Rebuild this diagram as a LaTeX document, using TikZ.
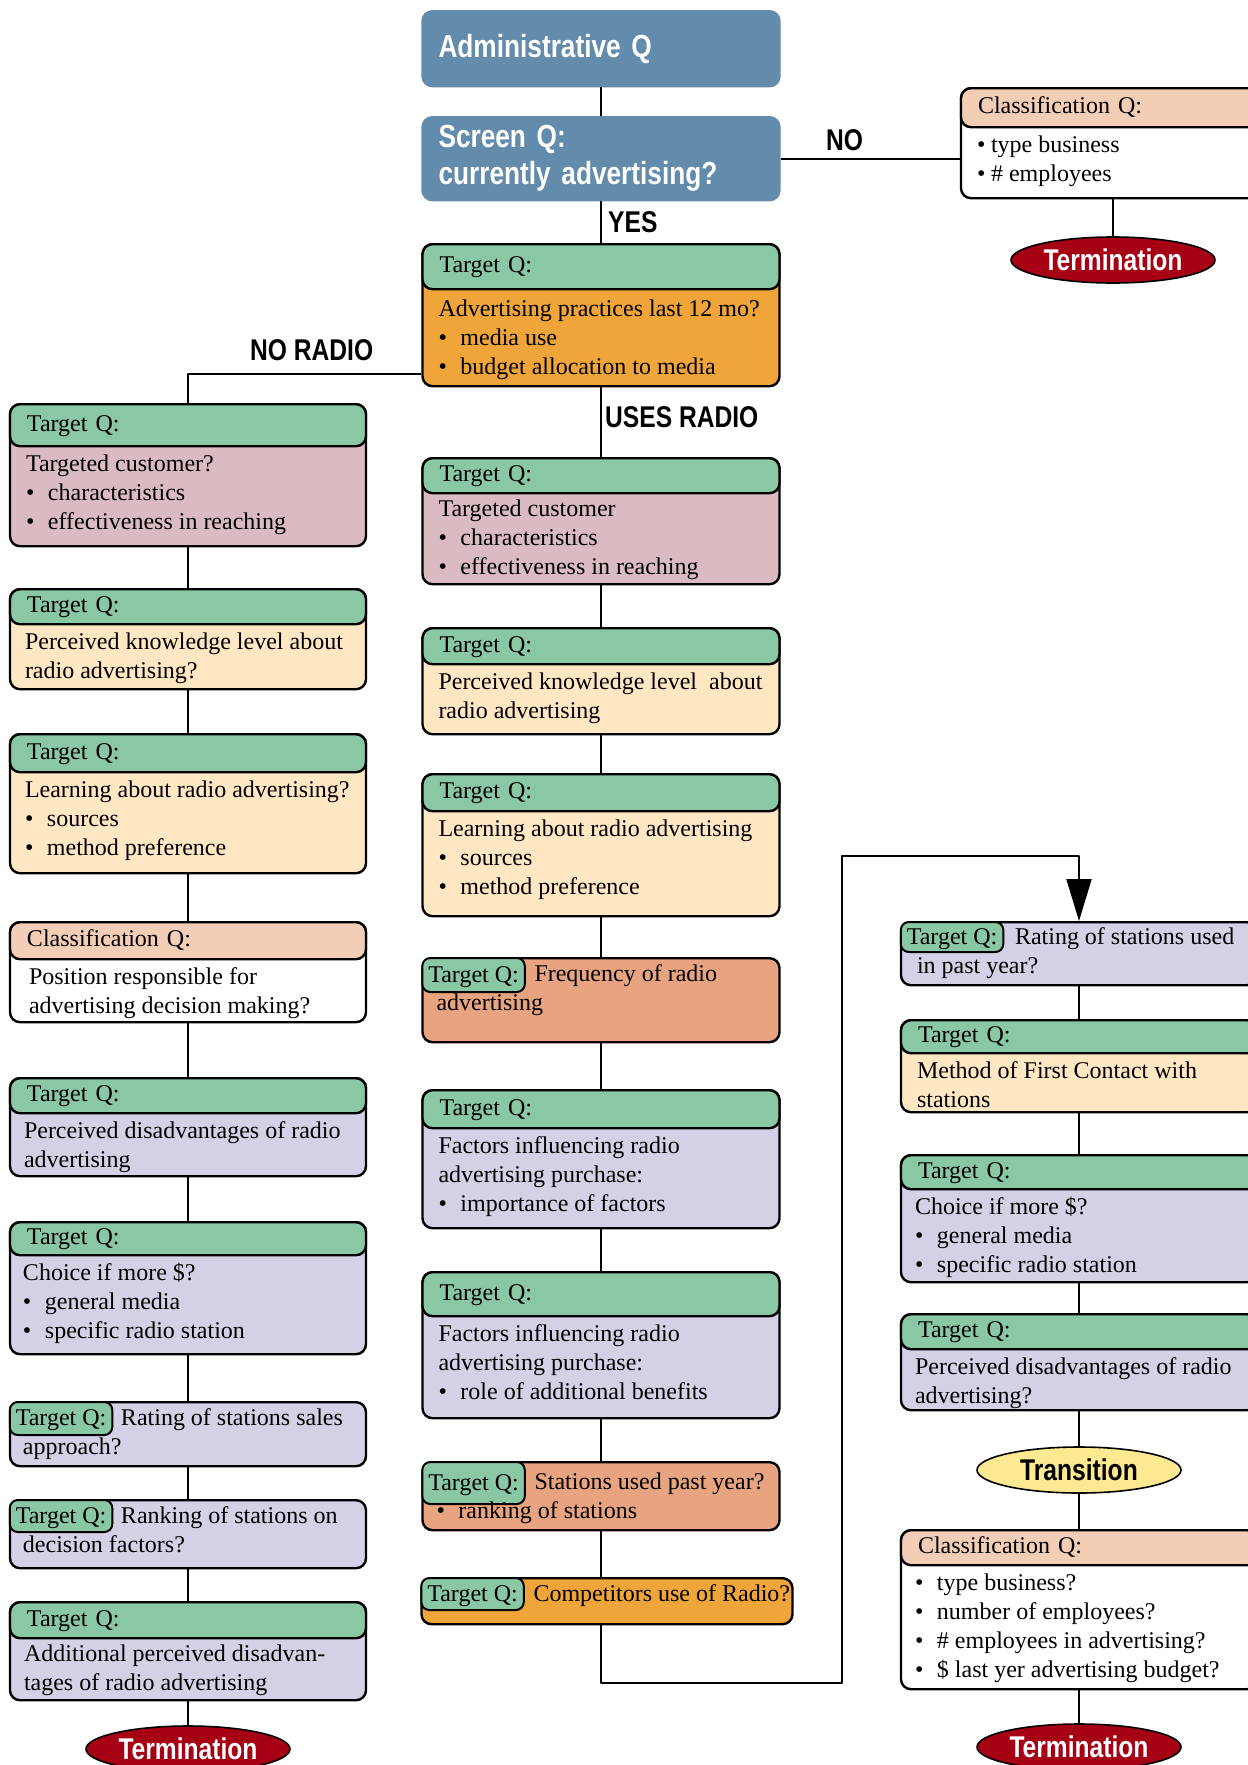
\documentclass[tikz,border=0pt]{standalone}
\usepackage{fontspec}
\setmainfont{Liberation Serif}
\newfontfamily\headfont[FakeStretch=0.82]{Liberation Sans}
\usetikzlibrary{shapes.geometric,arrows.meta}

\definecolor{qblue}{RGB}{98,139,172}
\definecolor{qgreen}{RGB}{138,199,165}
\definecolor{qorange}{RGB}{239,165,58}
\definecolor{qpink}{RGB}{219,187,194}
\definecolor{qpeach}{RGB}{255,231,196}
\definecolor{qsalmon}{RGB}{232,164,128}
\definecolor{qlav}{RGB}{213,208,230}
\definecolor{qclass}{RGB}{242,206,182}
\definecolor{qred}{RGB}{165,0,20}
\definecolor{qyellow}{RGB}{253,233,145}

\newcommand{\bul}{\makebox[22pt][l]{\textbullet}}
\newcommand{\tbul}{\makebox[14pt][l]{\textbullet}}

\tikzset{
	qbox/.style={draw, line width=2.4pt, rounded corners=10pt, anchor=north, inner sep=0pt},
	qhead/.style={draw, line width=2.4pt, rounded corners=10pt, anchor=north, inner xsep=17pt, inner ysep=0pt, align=left, text height=17pt, text depth=5pt},
	qtag/.style={draw, fill=qgreen, line width=2pt, rounded corners=8pt, anchor=north west, inner xsep=6pt, inner ysep=0pt, text height=17pt, text depth=3pt},
	qtext/.style={anchor=north west, inner sep=0pt, align=left},
	bluebox/.style={qbox, fill=qblue, draw=qblue, minimum width=357pt, inner xsep=16pt, text width=325pt, align=left, text=white, font=\headfont\bfseries\fontsize{32}{37}\selectfont},
	link/.style={line width=2pt},
	bigword/.style={font=\headfont\bfseries\fontsize{30}{36}\selectfont, inner sep=0pt, anchor=west},
	endcap/.style={ellipse, draw, line width=1.6pt, minimum width=204pt, minimum height=46pt, inner sep=0pt, font=\headfont\bfseries\fontsize{30}{36}\selectfont}
}

\begin{document}
\begin{tikzpicture}[x=1pt, y=-1pt, line join=round, font=\fontsize{24}{29}\selectfont]
	\useasboundingbox (0,0) rectangle (1248,1765);
	
	% screening part
	\node[bluebox, minimum height=75pt] (M0) at (601,10) {Administrative Q};
	\node[bluebox, minimum height=83pt] (M1) at (601,116) {Screen Q:\\currently advertising?};
	
	% boxes with a full header
	\foreach \nm/\cx/\ty/\by/\hy/\bw/\bc/\hc/\lab in {
		L1/188/403/545/445/356/qpink/qgreen/Target Q:,
		L2/188/588/688/623/356/qpeach/qgreen/Target Q:,
		L3/188/733/872/771/356/qpeach/qgreen/Target Q:,
		L4/188/921/1021/958/356/white/qclass/Classification Q:,
		L5/188/1077/1175/1112/356/qlav/qgreen/Target Q:,
		L6/188/1221/1353/1254/356/qlav/qgreen/Target Q:,
		L9/188/1601/1699/1637/356/qlav/qgreen/Target Q:,
		M2/601/243/385/288/357/qorange/qgreen/Target Q:,
		M3/601/457/583/492/357/qpink/qgreen/Target Q:,
		M4/601/627/733/663/357/qpeach/qgreen/Target Q:,
		M5/601/773/915/810/357/qpeach/qgreen/Target Q:,
		M7/601/1089/1227/1127/357/qlav/qgreen/Target Q:,
		M8/601/1271/1417/1315/357/qlav/qgreen/Target Q:,
		R0/1113/87/197/126/304/white/qclass/Classification Q:,
		R2/1079/1019/1111/1052/356/qpeach/qgreen/Target Q:,
		R3/1079/1154/1281/1188/356/qlav/qgreen/Target Q:,
		R4/1079/1313/1409/1348/356/qlav/qgreen/Target Q:,
		R5/1079/1529/1688/1564/356/white/qclass/Classification Q:}
	{
		\pgfmathsetmacro\hgt{\by-\ty}
		\pgfmathsetmacro\hh{\hy-\ty}
		\pgfmathsetmacro\tw{\bw-34}
		\node[qbox, fill=\bc, minimum width=\bw pt, minimum height=\hgt pt] (\nm) at (\cx,\ty) {};
		\node[qhead, fill=\hc, minimum width=\bw pt, minimum height=\hh pt, text width=\tw pt] (\nm h) at (\nm.north) {\lab};
	}
	
	% boxes with a small tag
	\foreach \nm/\cx/\ty/\by/\bw/\bc/\tg in {
		L7/188/1401/1465/356/qlav/33,
		L8/188/1499/1567/356/qlav/32,
		M6/601/957/1041/357/qsalmon/34,
		M9/601/1461/1529/357/qsalmon/42,
		M10/607/1577/1623/371/qorange/32,
		R1/1079/921/984/356/qlav/30}
	{
		\pgfmathsetmacro\hgt{\by-\ty}
		\node[qbox, fill=\bc, minimum width=\bw pt, minimum height=\hgt pt] (\nm) at (\cx,\ty) {};
		\node[qtag, minimum height=\tg pt] (\nm h) at (\nm.north west) {Target Q:};
	}
	
	% texts, left column
	\node[qtext] (L1t) at ([shift={(17,4)}]L1h.south west) {\strut Targeted customer?\\\bul characteristics\\\bul effectiveness in reaching};
	\node[qtext] (L2t) at ([shift={(16,4)}]L2h.south west) {\strut Perceived knowledge level about\\radio advertising?};
	\node[qtext] (L3t) at ([shift={(16,4)}]L3h.south west) {\strut Learning about radio advertising?\\\bul sources\\\bul method preference};
	\node[qtext] (L4t) at ([shift={(20,4)}]L4h.south west) {\strut Position responsible for\\advertising decision making?};
	\node[qtext] (L5t) at ([shift={(15,4)}]L5h.south west) {\strut Perceived disadvantages of radio\\advertising};
	\node[qtext] (L6t) at ([shift={(14,4)}]L6h.south west) {\strut Choice if more \$?\\\bul general media\\\bul specific radio station};
	\node[qtext] (L7t) at ([shift={(14,4)}]L7.north west) {\strut\hspace*{98pt}Rating of stations sales\\approach?};
	\node[qtext] (L8t) at ([shift={(14,4)}]L8.north west) {\strut\hspace*{98pt}Ranking of stations on\\decision factors?};
	\node[qtext] (L9t) at ([shift={(15,2)}]L9h.south west) {\strut Additional perceived disadvan-\\tages of radio advertising};
	
	% texts, middle column
	\node[qtext] (M2t) at ([shift={(17,6)}]M2h.south west) {\strut Advertising practices last 12 mo?\\\bul media use\\\bul budget allocation to media};
	\node[qtext] (M3t) at ([shift={(17,2)}]M3h.south west) {\strut Targeted customer\\\bul characteristics\\\bul effectiveness in reaching};
	\node[qtext] (M4t) at ([shift={(17,4)}]M4h.south west) {\strut Perceived knowledge level\ \ about\\radio advertising};
	\node[qtext] (M5t) at ([shift={(17,4)}]M5h.south west) {\strut Learning about radio advertising\\\bul sources\\\bul method preference};
	\node[qtext] (M6t) at ([shift={(15,4)}]M6.north west) {\strut\hspace*{98pt}Frequency of radio\\advertising};
	\node[qtext] (M7t) at ([shift={(17,4)}]M7h.south west) {\strut Factors influencing radio\\advertising purchase:\\\bul importance of factors};
	\node[qtext] (M8t) at ([shift={(17,4)}]M8h.south west) {\strut Factors influencing radio\\advertising purchase:\\\bul role of additional benefits};
	\node[qtext] (M9t) at ([shift={(15,8)}]M9.north west) {\strut\hspace*{98pt}Stations used past year?\\\bul ranking of stations};
	\node[qtext] (M10t) at ([shift={(15,4)}]M10.north west) {\strut\hspace*{98pt}Competitors use of Radio?};
	
	% texts, right column
	\node[qtext] (R0t) at ([shift={(17,4)}]R0h.south west) {\strut\tbul type business\\\tbul \# employees};
	\node[qtext] (R1t) at ([shift={(17,3)}]R1.north west) {\strut\hspace*{98pt}Rating of stations used\\in past year?};
	\node[qtext] (R2t) at ([shift={(17,4)}]R2h.south west) {\strut Method of First Contact with\\stations};
	\node[qtext] (R3t) at ([shift={(15,4)}]R3h.south west) {\strut Choice if more \$?\\\bul general media\\\bul specific radio station};
	\node[qtext] (R4t) at ([shift={(15,4)}]R4h.south west) {\strut Perceived disadvantages of radio\\advertising?};
	\node[qtext] (R5t) at ([shift={(15,4)}]R5h.south west) {\strut\bul type business?\\\bul number of employees?\\\bul \# employees in advertising?\\\bul \$ last yer advertising budget?};
	
	% ends
	\node[endcap, fill=qred, text=white] (T0) at (1113,260) {Termination};
	\node[endcap, fill=qred, text=white] (T1) at (188,1749) {Termination};
	\node[endcap, fill=qyellow] (Tr) at (1079,1470) {Transition};
	\node[endcap, fill=qred, text=white] (T2) at (1079,1747) {Termination};
	
	% branch words
	\node[bigword] (yes) at (608,222) {YES};
	\node[bigword] (no) at (826,140) {NO};
	\node[bigword] (noradio) at (250,350) {NO RADIO};
	\node[bigword] (usesradio) at (605,417) {USES RADIO};
	
	% connectors
	\path (188,374) coordinate (nr)
		(601,1683) coordinate (c1)
		(842,1683) coordinate (c2)
		(842,856) coordinate (c3)
		(1079,856) coordinate (c4);
	\draw[link] (M0) -- (M1) -- (M2);
	\draw[link] (M1.east) -- (M1.east -| R0.west);
	\draw[link] (R0) -- (T0);
	\draw[link] (M2.west |- nr) -- (nr) -- (L1);
	\draw[link] (L1) -- (L2) -- (L3) -- (L4) -- (L5) -- (L6) -- (L7) -- (L8) -- (L9) -- (T1);
	\draw[link] (M2) -- (M3) -- (M4) -- (M5) -- (M6) -- (M7) -- (M8) -- (M9);
	\draw[link] (M9.south) -- (M9.south |- M10.north);
	\draw[link, -{Triangle[length=42pt, width=25pt]}] (M9.south |- M10.south) -- (c1) -- (c2) -- (c3) -- (c4) -- (R1.north);
	\draw[link] (R1) -- (R2) -- (R3) -- (R4) -- (Tr) -- (R5) -- (T2);
\end{tikzpicture}
\end{document}
